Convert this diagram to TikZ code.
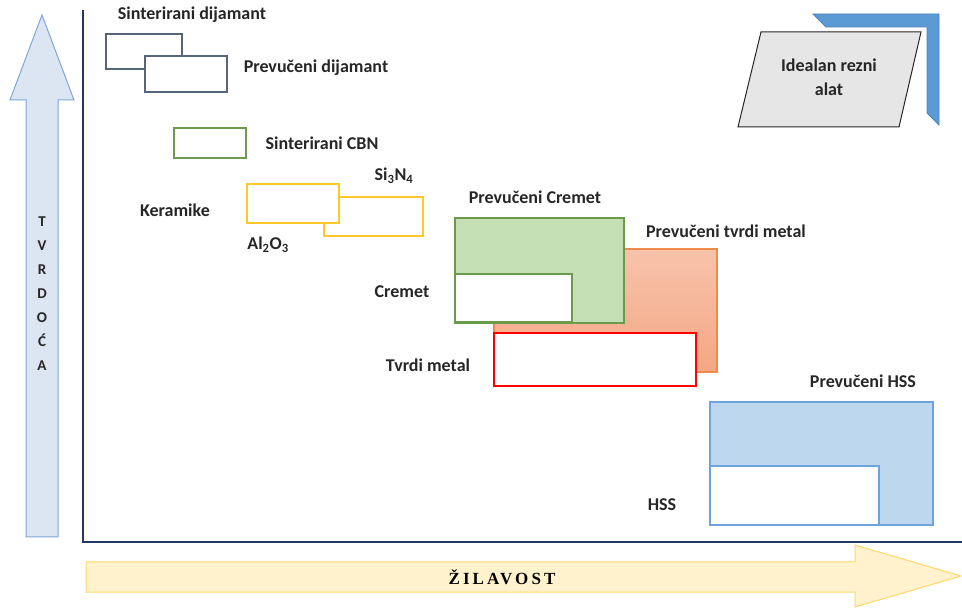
\documentclass[tikz,border=0pt]{standalone}
\usepackage{fontspec}
\setmainfont{Carlito}
\newfontfamily\axisfont{Liberation Serif}[LetterSpace=18]
\usetikzlibrary{calc}

\definecolor{navy}{HTML}{1F3864}
\definecolor{upfill}{HTML}{DCE6F2}
\definecolor{upline}{HTML}{7EA6D8}
\definecolor{rightfill}{HTML}{FFF2CC}
\definecolor{rightline}{HTML}{FFD966}
\definecolor{slate}{HTML}{56657A}
\definecolor{cbngreen}{HTML}{6E9A52}
\definecolor{ceramic}{HTML}{FFC727}
\definecolor{cremetfill}{HTML}{C5E0B4}
\definecolor{cremetline}{HTML}{6A9A4C}
\definecolor{tmline}{HTML}{F08A4B}
\definecolor{tmtop}{HTML}{F7C3AB}
\definecolor{tmbottom}{HTML}{F4A784}
\definecolor{hssfill}{HTML}{BDD7EE}
\definecolor{hssline}{HTML}{6FA3DB}
\definecolor{idealfill}{HTML}{E7E6E6}
\definecolor{cornerfill}{HTML}{5B9BD5}
\definecolor{cornerline}{HTML}{4A84BE}

\tikzset{
  lbl/.style={font=\fontsize{18}{20}\selectfont\bfseries, text=black!85, inner sep=0pt},
  box/.style={draw=#1, line width=1.1pt, fill=white},
  filledbox/.style 2 args={draw=#1, line width=1.1pt, fill=#2},
}

\begin{document}
\begin{tikzpicture}[x=1pt, y=-1pt]
\useasboundingbox (0,0) rectangle (962,609);

% vertical axis arrow (hardness)
\draw[upline, line width=1pt, fill=upfill]
  (26,537) -- (26,100) -- (10,100) -- (42,15) -- (74,100) -- (58,100) -- (58,537) -- cycle;
\node[font=\fontsize{15}{24}\selectfont\bfseries, align=center, inner sep=0pt, text=black!85] (hard) at (42,294)
  {T\\V\\R\\D\\O\\Ć\\A};

% horizontal axis arrow (toughness)
\draw[rightline, line width=1pt, fill=rightfill]
  (86,562) -- (855,562) -- (855,545) -- (961,576) -- (855,607) -- (855,592) -- (86,592) -- cycle;
\node[font=\axisfont\fontsize{17}{19}\selectfont\bfseries, inner sep=0pt] (tough) at (502,577) {ŽILAVOST};

% axes
\coordinate (top) at (83,10);
\coordinate (origin) at (83,542);
\coordinate (right) at (962,542);
\draw[navy, line width=2pt] (top) -- (origin) -- (right);

% diamond tools
\draw[box=slate] (106,34) rectangle (182,69);
\draw[box=slate] (145,56) rectangle (227,92);
\node[lbl] (sd) at (192,15) {Sinterirani dijamant};
\node[lbl] (pd) at (316,68) {Prevučeni dijamant};

% CBN
\draw[box=cbngreen] (174,128) rectangle (246,158);
\node[lbl] (cbn) at (322,143) {Sinterirani CBN};

% ceramics
\draw[box=ceramic] (324,197) rectangle (423,236);
\draw[box=ceramic] (247,184) rectangle (339,223);
\node[lbl] (ker) at (175,210) {Keramike};
\node[lbl] (si) at (394,176) {Si\textsubscript{3}N\textsubscript{4}};
\node[lbl] (al) at (268,245) {Al\textsubscript{2}O\textsubscript{3}};

% coated hard metal
\draw[tmline, line width=1.1pt, top color=tmtop, bottom color=tmbottom] (494,249) rectangle (717,372);
\node[lbl] (ptm) at (726,231) {Prevučeni tvrdi metal};

% cermet
\draw[filledbox={cremetline}{cremetfill}] (455,218) rectangle (624,323);
\draw[box=cremetline] (455,274) rectangle (572,322);
\node[lbl] (pcr) at (535,197) {Prevučeni Cremet};
\node[lbl] (cr) at (402,292) {Cremet};

% hard metal
\draw[box=red] (494,333) rectangle (696,386);
\node[lbl] (tm) at (428,365) {Tvrdi metal};

% HSS
\draw[filledbox={hssline}{hssfill}] (710,402) rectangle (933,525);
\draw[box=hssline] (710,466) rectangle (879,525);
\node[lbl] (phss) at (863,381) {Prevučeni HSS};
\node[lbl] (hss) at (662,505) {HSS};

% ideal cutting tool
\draw[cornerline, line width=0.8pt, fill=cornerfill]
  (813,14) -- (939,14) -- (939,125) -- (927,113) -- (927,27) -- (826,27) -- cycle;
\draw[black!85, line width=1pt, fill=idealfill]
  (761,32) -- (921,32) -- (899,127) -- (738,127) -- cycle;
\node[lbl, align=center, font=\fontsize{18}{24}\selectfont\bfseries] (ideal) at (829,77) {Idealan rezni\\alat};

\end{tikzpicture}
\end{document}
